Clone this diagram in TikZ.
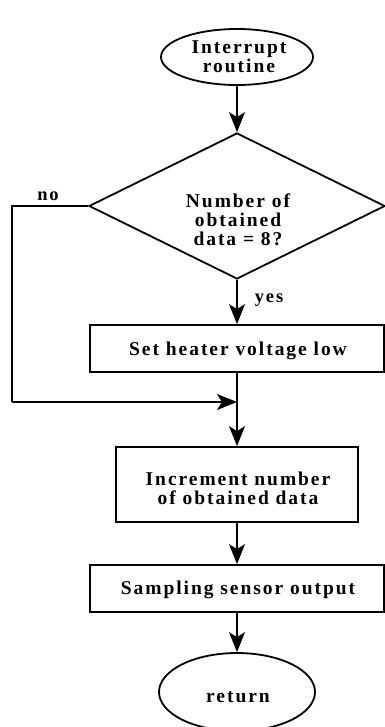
\documentclass[tikz,border=0pt]{standalone}
\usepackage{fontspec}
\setmainfont{Liberation Serif}[LetterSpace=10]
\usetikzlibrary{shapes.geometric,arrows.meta}
\begin{document}
\begin{tikzpicture}[x=1pt,y=-1pt,
  line width=1.8pt,
  every node/.style={font=\fontsize{19.5}{19}\selectfont\bfseries},
  term/.style={draw,ellipse,inner sep=0pt},
  proc/.style={draw,rectangle,inner sep=0pt},
  dec/.style={draw,diamond,inner sep=0pt,minimum width=296pt,minimum height=146pt},
  txt/.style={align=center,inner sep=0pt},
  arr/.style={-{Stealth[length=20pt,width=16pt,inset=5pt]}},
  lbl/.style={inner sep=0pt,font=\fontsize{18.5}{19}\selectfont\bfseries}]
\useasboundingbox[fill=white] (0,0) rectangle (384,727);
% nodes
\node[term,minimum width=152pt,minimum height=56pt] (start) at (237,57) {};
\node[txt] (starttext) at (239,57) {Interrupt\\routine};
\node[dec] (dec) at (237,206) {};
\node[txt] (dectext) at (238,220) {Number of\\obtained\\data = 8?};
\node[proc,minimum width=294pt,minimum height=47pt] (b1) at (237,348.5) {};
\node[txt] (b1text) at (238,351) {Set heater voltage low};
\node[proc,minimum width=242pt,minimum height=75pt] (b2) at (237,484.5) {};
\node[txt] (b2text) at (238,488) {Increment number\\of obtained data};
\node[proc,minimum width=294pt,minimum height=47pt] (b3) at (237,588.5) {};
\node[txt] (b3text) at (238,590) {Sampling sensor output};
\node[term,minimum width=156pt,minimum height=78pt] (ret) at (237,692) {};
\node[txt] (rettext) at (238,697) {return};
\coordinate (nl) at (12,206);
\coordinate (nb) at (12,402);
\coordinate (m) at (237,402);
% labels
\node[lbl] (no) at (48,196) {no};
\node[lbl,anchor=west] (yes) at (254,300) {yes};
% connectors
\draw[arr] (start.south) -- (dec.north);
\draw[arr] (dec.south) -- (b1.north);
\draw (dec.west) -- (nl) -- (nb);
\draw[arr] (nb) -- (m);
\draw[arr] (b1.south) -- (b2.north);
\draw[arr] (b2.south) -- (b3.north);
\draw[arr] (b3.south) -- (ret.north);
\end{tikzpicture}
\end{document}
